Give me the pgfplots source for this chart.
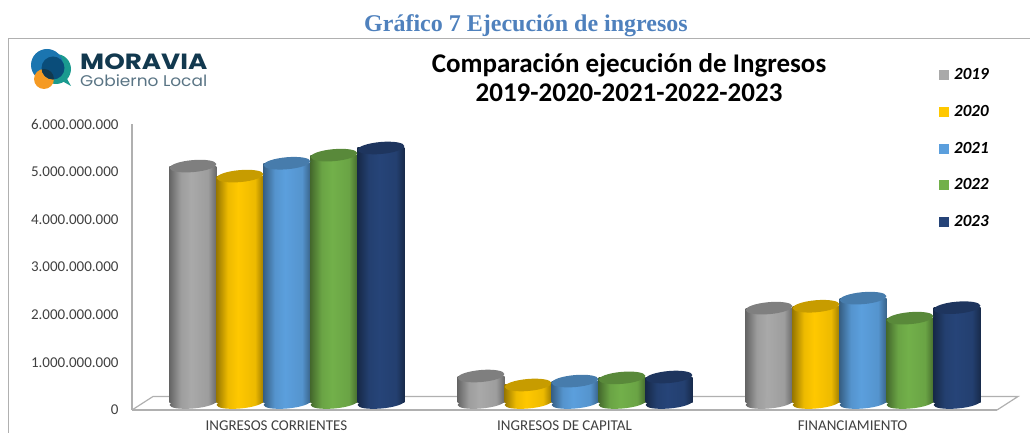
\documentclass[border=0pt]{standalone}
\usepackage{fontspec}
\setmainfont{Carlito}
\newfontfamily\serifb{Liberation Serif}
\newfontfamily\logof{Poppins}
\usepackage{pgfplots}
\usepackage{pgfplotstable}
\pgfplotsset{compat=1.18}

\definecolor{titleblue}{HTML}{4F81BD}
\definecolor{c2019}{HTML}{A9A9A9}
\definecolor{c2020}{HTML}{FFC800}
\definecolor{c2021}{HTML}{5B9FDD}
\definecolor{c2022}{HTML}{72B04A}
\definecolor{c2023}{HTML}{264478}
\definecolor{axisgray}{HTML}{B0B0B0}
\definecolor{logotxt}{HTML}{12394F}
\definecolor{logoteal}{HTML}{1A9A8F}
\definecolor{logoblue}{HTML}{1B75B0}
\definecolor{logoorange}{HTML}{F59A23}
\definecolor{logodark}{HTML}{0A4D7A}

% cylinder sides: dark edge, light middle, dark edge (25bp-75bp is the bar)
\newcommand{\cylshade}[1]{\pgfdeclarehorizontalshading{s#1}{100bp}{color(0bp)=(c#1!60!black); color(25bp)=(c#1!60!black); color(37bp)=(c#1!93!black); color(48bp)=(c#1); color(66bp)=(c#1!93!black); color(75bp)=(c#1!62!black); color(100bp)=(c#1!62!black)}}
\cylshade{2019}
\cylshade{2020}
\cylshade{2021}
\cylshade{2022}
\cylshade{2023}

\pgfplotstableread{
x  y2019      y2020      y2021      y2022      y2023
0  4970000000 4760000000 5030000000 5200000000 5350000000
1  566000000  378000000  460000000  527000000  545000000
2  1990000000 2030000000 2200000000 1780000000 2000000000
}\ingresos

\newcommand{\cyl}[3]{%
  % #1 year, #2 horizontal offset of the bar in pt, #3 share of colour in the lid
  \pgfdeclareplotmark{bot#1}{\pgftransformrotate{5}\pgfpathellipse{\pgfpointorigin}{\pgfpoint{23.5pt}{0pt}}{\pgfpoint{0pt}{5.5pt}}\pgfshadepath{s#1}{0}\pgfusepath{discard}}%
  \pgfdeclareplotmark{top#1}{\pgftransformrotate{5}\pgfpathellipse{\pgfpointorigin}{\pgfpoint{23.5pt}{0pt}}{\pgfpoint{0pt}{6pt}}\pgfsetfillcolor{c#1!#3!black}\pgfusepathqfill}%
  \addplot[forget plot, only marks, xshift=#2pt, yshift=7pt, mark=bot#1] table[x=x,y expr=0] {\ingresos};
  \pgfplotsinvokeforeach{0,1,2}{%
    \addplot[forget plot, ybar, bar width=47pt, bar shift=0pt, xshift=#2pt, yshift=7pt, draw=none, shading=s#1, restrict x to domain=##1:##1] table[x=x,y=y#1] {\ingresos};
  }
  \addplot[forget plot, only marks, xshift=#2pt, yshift=7pt, mark=top#1] table[x=x,y=y#1] {\ingresos};
}

\begin{document}
\begin{tikzpicture}[x=1pt,y=1pt]
  \useasboundingbox (0,0) rectangle (1030,433);
  % panel frame
  \draw[axisgray,line width=0.8pt] (8.5,0) -- (8.5,394.5) -- (1030,394.5);
  \node[font=\serifb\bfseries\fontsize{24}{26}\selectfont,text=titleblue] at (526,407) {Gráfico 7 Ejecución de ingresos};
  \node[font=\bfseries\fontsize{27}{29}\selectfont,align=center] at (629,355) {Comparación ejecución de Ingresos\\2019-2020-2021-2022-2023};
  % logo
  \fill[logoteal] (56,364) circle (15);
  \fill[logoteal] (62,352) -- (71,347) -- (66,356) -- cycle;
  \fill[logoblue] (47,368) circle (16);
  \fill[logoorange] (44,354) circle (10);
  \fill[logodark] (53,365) circle (11.5);
  \begin{scope}
    \clip (44,354) circle (10);
    \fill[logotxt] (53,365) circle (11.5);
  \end{scope}
  \node[anchor=west,inner sep=0pt,font=\logof\bfseries\fontsize{22}{22}\selectfont,text=logotxt,xscale=1.19,transform shape] at (80,371) {MORAVIA};
  \node[anchor=west,inner sep=0pt,font=\logof\fontsize{15.5}{16}\selectfont,text=logotxt!70,xscale=1.095,transform shape] at (80,352) {Gobierno Local};
  % floor of the chart
  \draw[axisgray,line width=1.2pt] (132,23) -- (153,36.5) -- (1018,36.5) -- (997,23);

  \begin{axis}[
      at={(132pt,23pt)}, anchor=south west,
      scale only axis, width=865pt, height=286pt,
      xmin=-0.538, xmax=2.465, ymin=0, ymax=6000000000,
      clip=false,
      axis x line=bottom, axis y line=left,
      axis line style={axisgray,line width=1.2pt,-},
      ytick={0,1000000000,2000000000,3000000000,4000000000,5000000000,6000000000},
      xtick={0,1,2},
      xticklabels={INGRESOS CORRIENTES,INGRESOS DE CAPITAL,FINANCIAMIENTO},
      major tick length=0pt,
      scaled y ticks=false,
      /pgf/number format/.cd, fixed, precision=0, 1000 sep={.}, assume math mode=true,
      /pgfplots/.cd,
      yticklabel style={font=\fontsize{15}{15}\selectfont,text=black!75,xshift=-10pt},
      xticklabel style={font=\fontsize{15}{15}\selectfont,text=black!75,inner ysep=0pt,yshift=-11pt,xshift=-10.5pt},
      legend style={draw=none, fill=none, at={(0.9325,1.202)}, anchor=north west, row sep=20.1pt, font=\bfseries\itshape\fontsize{17}{17}\selectfont, legend cell align=left, inner sep=0pt, /tikz/every odd column/.append style={column sep=4pt}},
      legend image code/.code={\fill[#1] (0,-4.5pt) rectangle (9pt,4.5pt);},
    ]
    \addlegendimage{c2019}\addlegendentry{2019}
    \addlegendimage{c2020}\addlegendentry{2020}
    \addlegendimage{c2021}\addlegendentry{2021}
    \addlegendimage{c2022}\addlegendentry{2022}
    \addlegendimage{c2023}\addlegendentry{2023}
    \cyl{2019}{-94}{75}
    \cyl{2020}{-47}{78}
    \cyl{2021}{0}{78}
    \cyl{2022}{47}{78}
    \cyl{2023}{94}{78}
  \end{axis}
\end{tikzpicture}
\end{document}
